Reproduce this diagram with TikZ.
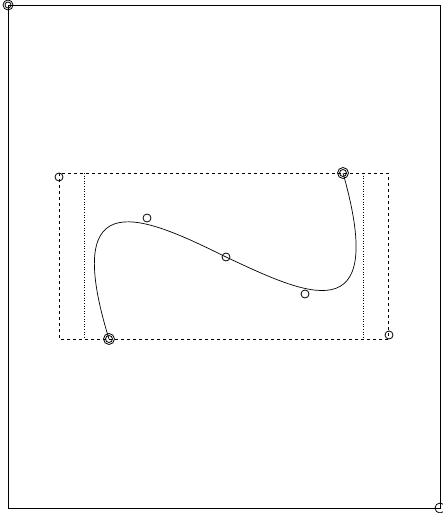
\documentclass[tikz,border=0pt]{standalone}
\usetikzlibrary{arrows.meta}

\begin{document}
\begin{tikzpicture}[x=1pt, y=-1pt, line width=0.6pt]
  \useasboundingbox (0,0) rectangle (443,513);
  % puntos
  \coordinate (start) at (109,339);
  \coordinate (ctrlA) at (59,177);
  \coordinate (ctrlB) at (147,218);
  \coordinate (mid)   at (226,257);
  \coordinate (ctrlC) at (305,294);
  \coordinate (ctrlD) at (389,335);
  \coordinate (stop)  at (343,173);
  % marco exterior
  \draw (8,5) rectangle (440,508);
  \draw[line width=0.8pt] (8,5) circle (5pt) (8,5) circle (3pt);
  \draw[line width=0.8pt] (440,508) circle (5pt);
  % caja de control
  \draw[dashed] (59,173) rectangle (388,339);
  \draw[dotted] (84,173) -- (84,339) (363,173) -- (363,339);
  % curva
  \draw[line width=0.7pt] (start) .. controls (ctrlA) and (ctrlB) .. (mid)
    .. controls (ctrlC) and (ctrlD) .. (stop);
  \foreach \p in {ctrlA,ctrlB,mid,ctrlC,ctrlD}
    \draw[line width=0.8pt] (\p) circle (4pt);
  \foreach \p in {start,stop}
    \draw[line width=0.8pt] (\p) circle (5.5pt) (\p) circle (3.5pt);
\end{tikzpicture}
\end{document}
